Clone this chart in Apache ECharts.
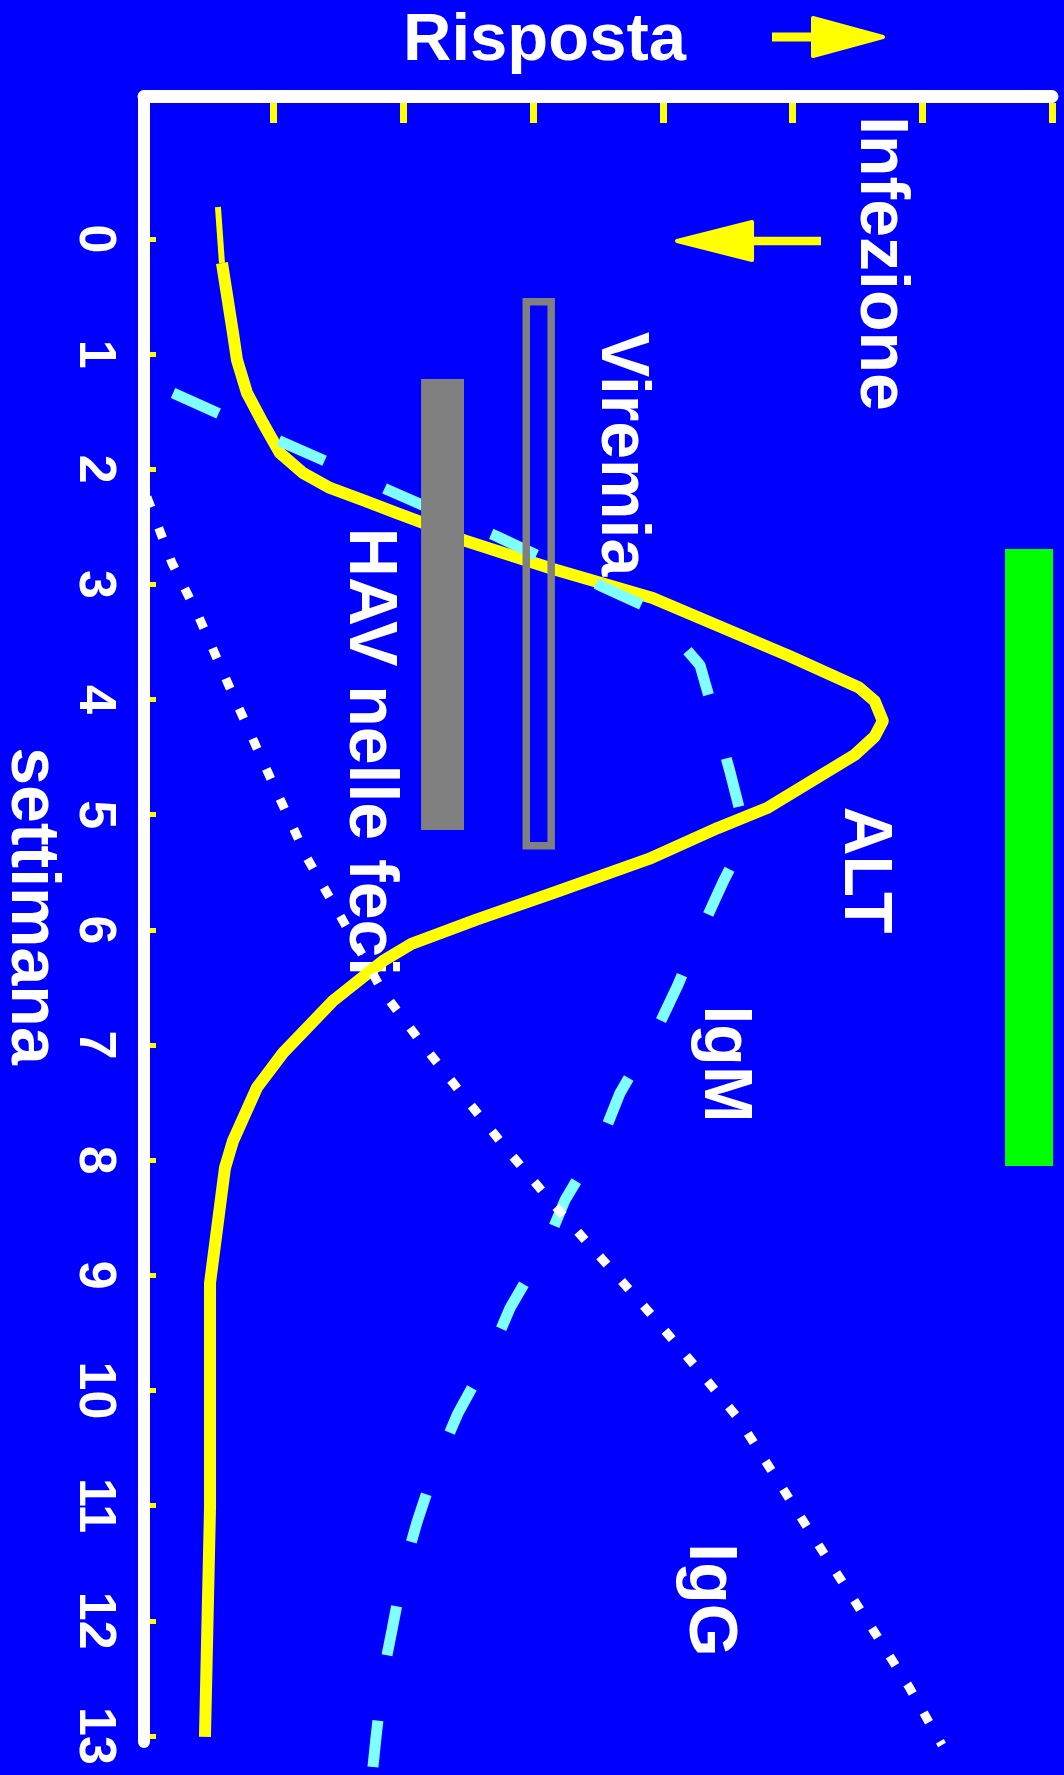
<!DOCTYPE html>
<html><head><meta charset="utf-8">
<script src="https://cdn.jsdelivr.net/npm/echarts@6/dist/echarts.min.js"></script>
<style>html,body{margin:0;padding:0;background:#0000FF;}#c{width:1064px;height:1775px;}</style>
</head><body><div id="c"></div>
<script>
// Ticks
const weekTicks = [0,1,2,3,4,5,6,7,8,9,10,11,12,13];
const responseTicks = [1,2,3,4,5,6,7];

// Curves: [risposta, settimana]
const altStart = [[0.570,-0.278],[0.601,0.208]];
const altCurve = [
  [0.601,0.208],[0.686,0.816],[0.717,1.051],[0.794,1.337],[0.917,1.598],[1.048,1.858],
  [1.226,2.032],[1.434,2.162],[1.688,2.267],[1.950,2.380],[2.151,2.466],[2.459,2.614],
  [3.153,2.866],[3.921,3.118],[4.975,3.621],[5.512,3.895],[5.633,4.012],[5.696,4.186],
  [5.633,4.321],[5.482,4.477],[4.803,4.942],[4.422,5.116],[3.892,5.384],[3.153,5.680],
  [2.563,5.911],[2.062,6.122],[1.843,6.270],[1.457,6.617],[1.072,7.069],[0.871,7.369],
  [0.686,7.833],[0.624,8.068],[0.563,8.597],[0.509,9.066],[0.509,11.012],[0.470,13.009]
];
const igmCurve = [
  [0.224,1.337],[0.601,1.528],[1.064,1.763],[1.434,1.946],[1.881,2.180],[2.251,2.362],
  [2.714,2.579],[3.076,2.770],[3.539,3.022],[3.909,3.213],[4.286,3.700],[4.385,4.090],
  [4.518,4.629],[4.610,5.037],[4.610,5.263],[4.464,5.584],[4.310,5.966],[4.109,6.496],
  [3.940,6.895],[3.670,7.416],[3.531,7.807],[3.246,8.346],[3.092,8.762],[2.822,9.284],
  [2.667,9.692],[2.421,10.196],[2.259,10.621],[2.105,11.142],[2.004,11.542],[1.912,12.080],
  [1.843,12.471],[1.789,13.009],[1.765,13.270]
];
const iggCurve = [
  [0.023,2.241],[0.216,2.814],[0.416,3.265],[0.686,3.960],[0.971,4.672],[1.257,5.376],
  [1.588,6.027],[1.843,6.539],[2.151,7.000],[2.475,7.460],[2.814,7.929],[3.161,8.389],
  [3.531,8.858],[3.893,9.318],[4.248,9.787],[4.579,10.239],[4.849,10.716],[5.111,11.185],
  [5.374,11.646],[5.636,12.106],[5.898,12.575],[6.152,13.079]
];
// Bars: [settimana inizio, settimana fine, risposta min, risposta max]
const havFeci = [[1.216, 5.132, 2.136, 2.467]];
const viremia = [[0.544, 5.270, 2.947, 3.139]];
const altBar  = [[2.692, 8.050, 6.638, 7.008]];
// Infezione arrow: [settimana, risposta coda, risposta punta]
const infezione = [[0.017, 5.219, 4.094]];

const FONT = '"Liberation Sans", Arial, sans-serif';
const chart = echarts.init(document.getElementById('c'), null, {renderer:'canvas'});

function rectItem(fill, stroke, lw) {
  return function (params, api) {
    const p0 = api.coord([api.value(2), api.value(0)]);
    const p1 = api.coord([api.value(3), api.value(1)]);
    return {
      type: 'rect',
      shape: {x: p0[0], y: p0[1], width: p1[0] - p0[0], height: p1[1] - p0[1]},
      style: {fill: fill, stroke: stroke, lineWidth: lw}
    };
  };
}

function vText(txt, x, y, size) {
  return {
    type: 'text', x: x, y: y, rotation: -Math.PI / 2, z: 1,
    style: {text: txt, fill: '#ffffff', font: 'bold ' + size + 'px ' + FONT,
      textAlign: 'center', textVerticalAlign: 'middle'}
  };
}

const yMin = -1.2375, yMax = 13.053;

chart.setOption({
  backgroundColor: '#0000FF',
  animation: false,
  grid: {left: 144, right: 12, top: 96.5, bottom: 33, containLabel: false},
  xAxis: [
    {type: 'value', position: 'top', min: 0, max: 7, interval: 1,
      axisLine: {show: true, onZero: false, lineStyle: {color: '#ffffff', width: 13}},
      axisTick: {show: false}, axisLabel: {show: false}, splitLine: {show: false}},
    {type: 'value', position: 'top', min: 0, max: 7, interval: 1, offset: -6.5,
      axisLine: {show: false, onZero: false},
      axisTick: {show: true, inside: true, length: 20, customValues: responseTicks,
        lineStyle: {color: '#FFFF00', width: 7}},
      axisLabel: {show: false}, splitLine: {show: false}}
  ],
  yAxis: [
    {type: 'value', position: 'left', inverse: true, min: yMin, max: yMax,
      axisLine: {show: true, onZero: false, lineStyle: {color: '#ffffff', width: 12, cap: 'round'}},
      axisTick: {show: false},
      axisLabel: {show: true, customValues: weekTicks, rotate: -90, margin: 24,
        color: '#ffffff', fontSize: 52, fontWeight: 'bold', fontFamily: FONT},
      splitLine: {show: false}},
    {type: 'value', position: 'left', inverse: true, min: yMin, max: yMax, offset: -6,
      axisLine: {show: false, onZero: false},
      axisTick: {show: true, inside: true, length: 6, customValues: weekTicks,
        lineStyle: {color: '#FFFF00', width: 5}},
      axisLabel: {show: false}, splitLine: {show: false}}
  ],
  graphic: [
    {type: 'text', x: 544.5, y: 41.5, z: 1,
      style: {text: 'Risposta', fill: '#ffffff', font: 'bold 67px ' + FONT,
        textAlign: 'center', textVerticalAlign: 'middle'}},
    {type: 'rect', shape: {x: 772, y: 32.5, width: 41, height: 9}, style: {fill: '#FFFF00'}},
    {type: 'polygon', shape: {points: [[813, 18], [883, 37], [813, 56]]},
      style: {fill: '#FFFF00', stroke: '#FFFF00', lineWidth: 4, lineJoin: 'round'}},
    vText('Infezione', 880, 263.5, 68),
    vText('Viremia', 621, 454, 68),
    vText('HAV nelle feci', 369, 752, 68),
    vText('ALT', 864, 870, 68),
    vText('IgM', 724, 1064, 68),
    vText('IgG', 709, 1600, 68),
    vText('settimana', 31, 906, 68)
  ],
  series: [
    {type: 'line', name: 'ALT0', data: altStart, symbol: 'none', clip: false, silent: true, z: 3,
      lineStyle: {color: '#FFFF00', width: 6}},
    {type: 'line', name: 'ALT', data: altCurve, symbol: 'none', clip: false, silent: true, z: 3,
      lineStyle: {color: '#FFFF00', width: 12, join: 'round'}},
    {type: 'line', name: 'IgM', data: igmCurve, symbol: 'none', clip: false, silent: true, z: 4,
      lineStyle: {color: '#80FFFF', width: 11, type: [50, 66], cap: 'butt'}},
    {type: 'line', name: 'IgG', data: iggCurve, symbol: 'none', clip: false, silent: true, z: 4,
      lineStyle: {color: '#FFFFFF', width: 9, type: [11, 22], cap: 'butt'}},
    {type: 'custom', name: 'HAV nelle feci', data: havFeci, renderItem: rectItem('#808080', null, 0),
      encode: {x: [2, 3], y: [0, 1]}, z: 5, silent: true, clip: false},
    {type: 'custom', name: 'Viremia', data: viremia, renderItem: rectItem('none', '#808080', 7.5),
      encode: {x: [2, 3], y: [0, 1]}, z: 5, silent: true, clip: false},
    {type: 'custom', name: 'ALT elevata', data: altBar, renderItem: rectItem('#00FF00', null, 0),
      encode: {x: [2, 3], y: [0, 1]}, z: 5, silent: true, clip: false},
    {type: 'custom', name: 'Infezione', data: infezione, encode: {x: [1, 2], y: 0}, z: 5, silent: true, clip: false,
      renderItem: function (params, api) {
        const tail = api.coord([api.value(1), api.value(0)]);
        const tip = api.coord([api.value(2), api.value(0)]);
        const head = 77, half = 19;
        return {type: 'group', children: [
          {type: 'rect', shape: {x: tip[0] + head - 2, y: tip[1] - 4.25, width: tail[0] - tip[0] - head + 2, height: 8.5},
            style: {fill: '#FFFF00'}},
          {type: 'polygon', shape: {points: [[tip[0] + 2, tip[1]], [tip[0] + head, tip[1] - half], [tip[0] + head, tip[1] + half]]},
            style: {fill: '#FFFF00', stroke: '#FFFF00', lineWidth: 4, lineJoin: 'round'}}
        ]};
      }}
  ]
});
</script></body></html>
